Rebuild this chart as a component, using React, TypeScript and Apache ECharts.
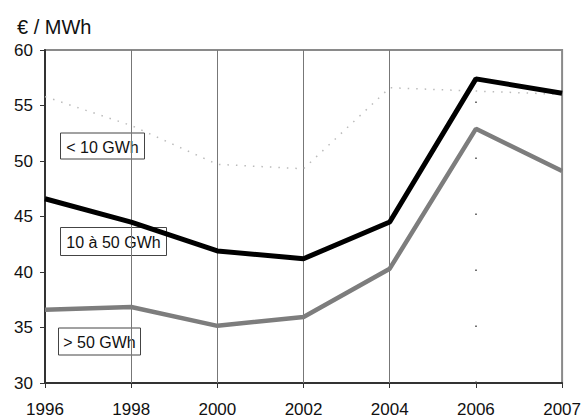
import React, { useEffect, useRef } from "react";
import * as echarts from "echarts";

const years = ["1996", "1998", "2000", "2002", "2004", "2006", "2007"];
const smallConsumers = [55.8, 53.2, 49.7, 49.3, 56.6, 56.3, 56.0];
const midConsumers = [46.6, 44.5, 41.9, 41.2, 44.5, 57.4, 56.1];
const largeConsumers = [36.6, 36.85, 35.15, 35.95, 40.3, 52.9, 49.1];
const gridYears = ["1998", "2000", "2002", "2004"];
const dottedYears = ["2006"];
const seriesNames = ["< 10 GWh", "10 à 50 GWh", "> 50 GWh"];
const unitTitle = "€ / MWh";

const FONT = "Liberation Sans";

export default function App() {
  const ref = useRef<HTMLDivElement>(null);
  useEffect(() => {
    if (!ref.current) return;
    const chart = echarts.init(ref.current, undefined, { renderer: "svg" });
    const box = (x: number, y: number, w: number, h: number, text: string) => ({
      type: "group",
      z: 3,
      children: [
        {
          type: "rect",
          z: 3,
          shape: { x, y, width: w, height: h },
          style: { fill: "#fff", stroke: "#444", lineWidth: 1 },
        },
        {
          type: "text",
          z: 4,
          x: x + w / 2,
          y: y + h / 2 + 1,
          style: {
            text,
            fill: "#111",
            fontSize: 16,
            fontFamily: FONT,
            align: "center",
            verticalAlign: "middle",
          },
        },
      ],
    });
    chart.setOption({
      animation: false,
      backgroundColor: "#fff",
      title: {
        text: unitTitle,
        left: 12,
        top: 12,
        textStyle: { fontSize: 20, fontWeight: "normal", color: "#111", fontFamily: FONT },
      },
      grid: {
        left: 45,
        right: 17,
        top: 50,
        bottom: 32,
        show: true,
        borderColor: "#8a8a8a",
        borderWidth: 2,
        backgroundColor: "transparent",
      },
      xAxis: {
        type: "category",
        data: years,
        boundaryGap: false,
        axisLine: { lineStyle: { color: "#333", width: 2 } },
        axisTick: { show: true, length: 5, lineStyle: { color: "#333" } },
        axisLabel: { color: "#111", fontSize: 17, fontFamily: FONT, margin: 18, interval: 0 },
        splitLine: { show: false },
      },
      yAxis: {
        type: "value",
        min: 30,
        max: 60,
        interval: 5,
        axisLine: { show: true, lineStyle: { color: "#333", width: 2 } },
        axisTick: { show: true, length: 5, lineStyle: { color: "#333" } },
        axisLabel: { color: "#111", fontSize: 17, fontFamily: FONT, margin: 12 },
        splitLine: { show: false },
      },
      graphic: [
        box(60.5, 133, 84, 26, seriesNames[0]),
        box(60.5, 227.5, 106, 28, seriesNames[1]),
        box(58.5, 328, 82, 27, seriesNames[2]),
      ],
      series: [
        {
          type: "line",
          name: "grid",
          data: [],
          z: 1,
          silent: true,
          markLine: {
            silent: true,
            symbol: "none",
            label: { show: false },
            data: [
              ...gridYears.map((y) => ({
                xAxis: y,
                lineStyle: { color: "#777", width: 1, type: "solid" },
              })),
              ...dottedYears.map((y) => ({
                xAxis: y,
                lineStyle: { color: "#444", width: 1.5, type: [1.5, 54.5] },
              })),
            ],
          },
        },
        {
          type: "line",
          name: seriesNames[0],
          data: smallConsumers,
          z: 5,
          symbol: "none",
          lineStyle: { color: "#bbbbbb", width: 1.5, type: [1.5, 7] },
        },
        {
          type: "line",
          name: seriesNames[2],
          data: largeConsumers,
          z: 5,
          symbol: "none",
          lineStyle: { color: "#7d7d7d", width: 4.5 },
        },
        {
          type: "line",
          name: seriesNames[1],
          data: midConsumers,
          z: 6,
          symbol: "none",
          lineStyle: { color: "#000", width: 5 },
        },
      ],
    });
    return () => chart.dispose();
  }, []);
  return <div ref={ref} style={{ width: 584, height: 418, position: "absolute", left: 0, top: 0 }} />;
}
